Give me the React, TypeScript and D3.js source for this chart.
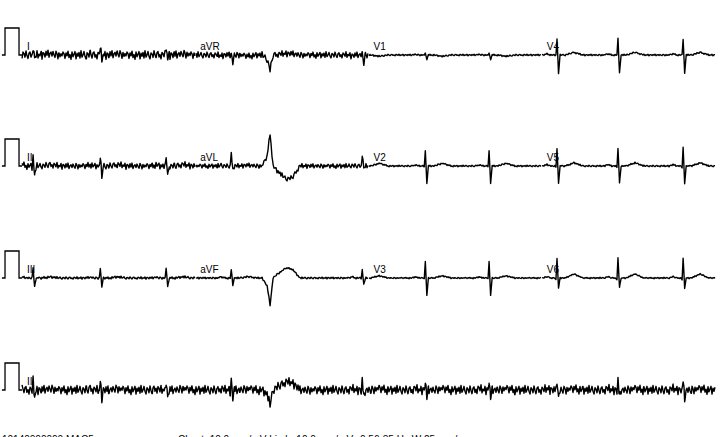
import React from "react";
import * as d3 from "d3";

// lead layout: 3 rows x 4 columns, then the rhythm strip (II)
const leadNames = ["I", "aVR", "V1", "V4", "II", "aVL", "V2", "V5", "III", "aVF", "V3", "V6", "II"];
// amplitudes in mV (27 px = 1 mV)
const pAmp = [0.03, -0.03, 0.02, 0.04, 0.05, 0.02, 0.04, 0.05, 0.03, 0.04, 0.04, 0.05, 0.05];
const qAmp = [0, 0, 0, 0, -0.05, 0, 0, -0.05, 0, 0, 0, -0.08, -0.05];
const rAmp = [0.3, 0.05, 0.05, 0.6, 0.37, 0.44, 0.55, 0.67, 0.37, 0.3, 0.6, 0.74, 0.35];
const sAmp = [-0.15, -0.3, -0.15, -0.67, -0.4, -0.1, -0.63, -0.63, -0.33, -0.25, -0.63, -0.37, -0.3];
const tAmp = [0.05, -0.04, -0.05, 0.1, 0.05, 0.03, 0.1, 0.12, 0.04, 0.05, 0.08, 0.15, 0.05];
const pvcR = [0.5, -0.55, 0, 0, -0.55, 1.2, 0, 0, -1, -1, 0, 0, -0.55];
const pvcT = [-0.2, 0.05, 0, 0, 0.3, -0.48, 0, 0, 0.37, 0.37, 0, 0, 0.3];
const noiseAmp = [0.16, 0.12, 0.03, 0.03, 0.12, 0.09, 0.03, 0.03, 0.045, 0.035, 0.025, 0.025, 0.17];

// beat positions (s)
const beatTimes = [0.16, 1.13, 2.08, 3.02, 4.91, 5.82, 6.74, 7.72, 8.6, 9.54];
const pvcTimes = [3.58];

// beat shapes: offsets (s) and which amplitude each knot takes
const normalT = [-0.2, -0.145, -0.09, -0.03, -0.015, 0, 0.022, 0.045, 0.12, 0.245, 0.37];
const normalK = ["0", "p", "0", "0", "q", "r", "s", "0", "0", "t", "0"];
const pvcShapeT = [-0.115, -0.043, 0, 0.043, 0.087, 0.23, 0.32, 0.43];
const pvcShapeK = [0, 0.3, 1, 0, 0.3, 1, 0.9, 0];
const pvcShapeR = [false, true, true, false, false, false, false, false];

// baseline texture (fixed jitter pattern, not random)
const jitter = [0.3, -0.8, 0.5, -0.2, 0.9, -0.6, 0.1, -1, 0.7, -0.4, 0.2, 0.8, -0.9, 0.4, -0.3, 0.6,
  -0.7, 1, -0.5, 0, 0.8, -0.3, -0.9, 0.5, 0.2, -0.6, 0.9, -0.1, -0.8, 0.4, 0.7, -0.5,
  0.1, -0.9, 0.6, 0.3, -0.4, 1, -0.7, 0.2, -0.2, 0.8, -1, 0.5, 0.3, -0.6, 0.7, -0.3,
  0.9, -0.8, 0.1, 0.4, -0.5, 0.6, -0.1, -0.7, 0.8, 0.2, -0.9, 0.5, -0.4, 0.3, -0.2, 0.7];

const rowBaselines = [55, 166, 278, 390];
const calT = [-0.29, -0.245, -0.245, -0.043, -0.043, 0];
const calV = [0, 0, 1, 1, 0, 0];
const footerText = ["10140000000  MAC5", "Chest: 10.0 mm/mV  Limb: 10.0 mm/mV", "0.56-35 Hz  W  25 mm/s"];
const footerX = [2, 178, 360];

const W = 724;
const H = 437;

const x = d3.scaleLinear().domain([0, 10]).range([22, 715]);

function knotVal(k: string, i: number) {
  if (k === "p") return pAmp[i];
  if (k === "q") return qAmp[i];
  if (k === "r") return rAmp[i];
  if (k === "s") return sAmp[i];
  if (k === "t") return tAmp[i];
  return 0;
}

function interp(ts: number[], vs: number[], dt: number) {
  if (dt <= ts[0] || dt >= ts[ts.length - 1]) return 0;
  for (let j = 1; j < ts.length; j++) {
    if (dt <= ts[j]) {
      const f = (dt - ts[j - 1]) / (ts[j] - ts[j - 1]);
      return vs[j - 1] + f * (vs[j] - vs[j - 1]);
    }
  }
  return 0;
}

function leadTrace(i: number, t0: number, t1: number) {
  const nv = normalK.map((k) => knotVal(k, i));
  const pv = pvcShapeK.map((k, j) => k * (pvcShapeR[j] ? pvcR[i] : pvcT[i]));
  // sample every pixel, plus every knot so the spikes are kept
  const times: number[] = [];
  const px0 = Math.ceil(x(t0));
  const px1 = Math.floor(x(t1));
  for (let p = px0; p <= px1; p++) times.push(x.invert(p));
  beatTimes.forEach((b) => normalT.forEach((o) => { if (b + o > t0 && b + o < t1) times.push(b + o); }));
  pvcTimes.forEach((b) => pvcShapeT.forEach((o) => { if (b + o > t0 && b + o < t1) times.push(b + o); }));
  times.sort((a, b) => a - b);
  return times.map((t) => {
    let v = 0;
    beatTimes.forEach((b) => { v += interp(normalT, nv, t - b); });
    pvcTimes.forEach((b) => { v += interp(pvcShapeT, pv, t - b); });
    const idx = (Math.round(x(t)) + i * 11) % jitter.length;
    v += jitter[idx] * noiseAmp[i];
    return [t, v] as [number, number];
  });
}

export default function App() {
  const traces = leadNames.map((name, i) => {
    const row = i < 12 ? Math.floor(i / 4) : 3;
    const col = i < 12 ? i % 4 : 0;
    const base = rowBaselines[row];
    const y = d3.scaleLinear().domain([-1, 1]).range([base + 27, base - 27]);
    const t0 = i < 12 ? col * 2.5 : 0;
    const t1 = i < 12 ? col * 2.5 + 2.5 : 10;
    const line = d3.line<[number, number]>().x((d) => x(d[0])).y((d) => y(d[1]));
    return { name, d: line(leadTrace(i, t0, t1)) || "", lx: x(t0) + 5, ly: base - 5 };
  });

  const calibrations = rowBaselines.map((base) => {
    const y = d3.scaleLinear().domain([-1, 1]).range([base + 27, base - 27]);
    const pts = calT.map((t, j) => [t, calV[j]] as [number, number]);
    return d3.line<[number, number]>().x((d) => x(d[0])).y((d) => y(d[1]))(pts) || "";
  });

  return (
    <svg width={W} height={H} style={{ position: "absolute", left: 0, top: 0, background: "#fff" }}
      fontFamily="'Liberation Sans', Arial, sans-serif">
      <rect width={W} height={H} fill="#fff" />
      {calibrations.map((d, i) => (
        <path key={"c" + i} d={d} fill="none" stroke="#000" strokeWidth={1.3} />
      ))}
      {traces.map((tr, i) => (
        <g key={i}>
          <path d={tr.d} fill="none" stroke="#000" strokeWidth={1.4} strokeLinejoin="round" />
          <text x={tr.lx} y={tr.ly} fontSize={10} fill="#000">{tr.name}</text>
        </g>
      ))}
      {footerText.map((s, i) => (
        <text key={"f" + i} x={footerX[i]} y={443} fontSize={10} fill="#000">{s}</text>
      ))}
    </svg>
  );
}
